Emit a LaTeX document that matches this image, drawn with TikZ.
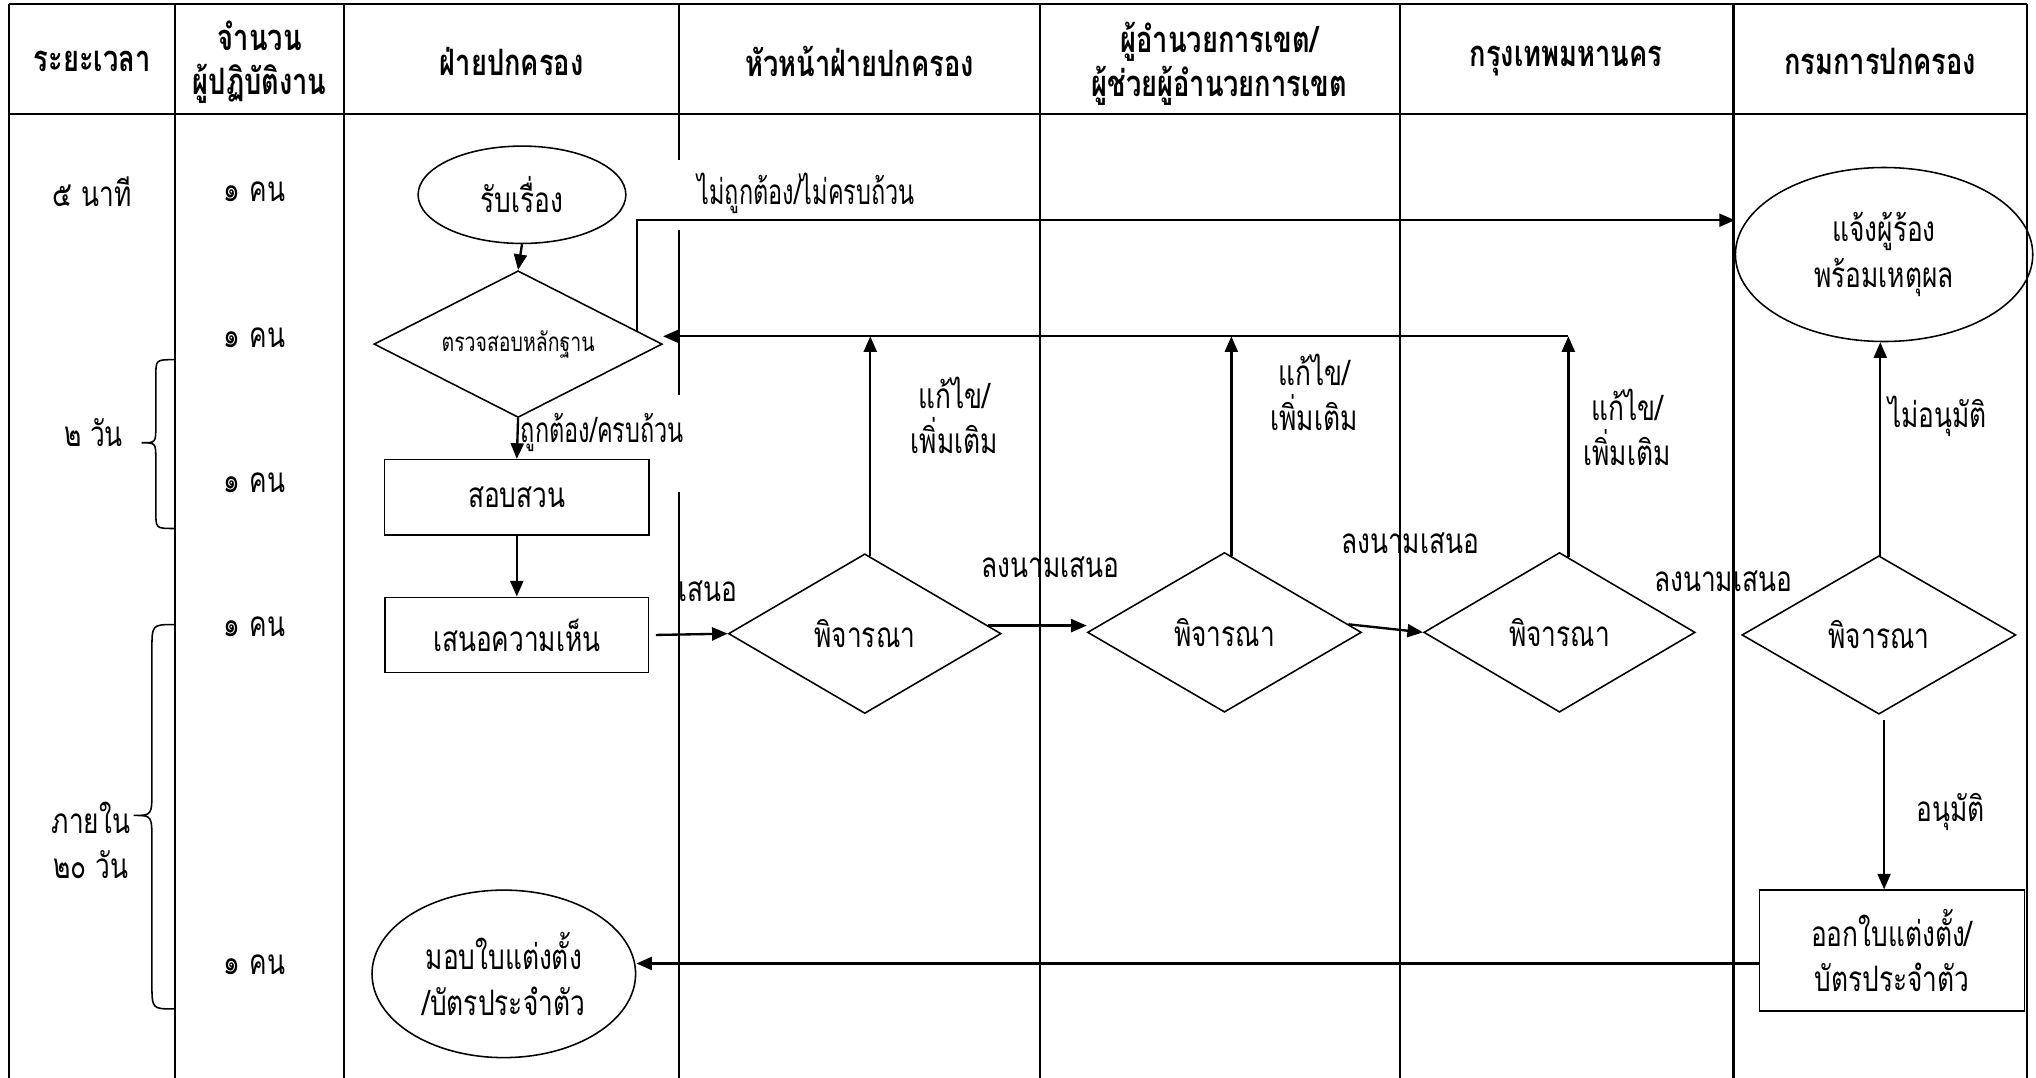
\documentclass[tikz,border=0pt]{standalone}
\usepackage{fontspec}
\newfontfamily\thai[Script=Thai,FakeStretch=0.75]{Loma}
\newfontfamily\thainarrow[Script=Thai,FakeStretch=0.67]{Loma}
\usetikzlibrary{arrows.meta,shapes.geometric,calc}
\newcommand\bodyfont{\thai\fontsize{27}{35}\selectfont}
\newcommand\narrowfont{\thainarrow\fontsize{27}{35}\selectfont}
\newcommand\smallthai{\thai\fontsize{20}{24}\selectfont}
\newcommand\headfont{\thai\bfseries\fontsize{28}{34}\selectfont}
\begin{document}
\begin{tikzpicture}[x=1pt,y=-1pt,
  tline/.style={line width=1.6pt},
  shp/.style={draw,line width=1.2pt,inner sep=0pt,font=\bodyfont,align=center},
  procbox/.style={shp,rectangle},
  termi/.style={shp,ellipse},
  decide/.style={shp,diamond,aspect=2},
  arr/.style={line width=1.8pt,-{Triangle[length=12pt,width=10pt]}},
  txt/.style={font=\bodyfont,align=center,inner sep=0pt},
  head/.style={font=\headfont,align=center,inner sep=0pt},
  brc/.style={line width=1.2pt}]
\useasboundingbox (0,0) rectangle (1568,830);
% ---------- table ----------
\draw[tline] (7,3) -- (1561,3);
\draw[tline] (7,88) -- (1561,88);
\foreach \x in {7,135,265,523,801,1078,1335,1561}
  \draw[tline] (\x,3) -- (\x,830);
% white backgrounds of the two label boxes that hide the lane line
\fill[white] (513,123) rectangle (710,177);
\fill[white] (396,304) rectangle (532,379);
% ---------- header ----------
\node[head] (h1) at (71,47) {ระยะเวลา};
\node[head] (h2) at (200,48) {จำนวน\\ผู้ปฏิบัติงาน};
\node[head] (h3) at (394,47) {ฝ่ายปกครอง};
\node[head] (h4) at (662,47) {หัวหน้าฝ่ายปกครอง};
\node[head] (h5) at (939,49) {ผู้อำนวยการเขต/\\ผู้ช่วยผู้อำนวยการเขต};
\node[head] (h6) at (1206,47) {กรุงเทพมหานคร};
\node[head] (h7) at (1448,47) {กรมการปกครอง};
% ---------- time / staff columns ----------
\node[txt] (t1) at (71,148) {๕ นาที};
\node[txt] (t2) at (72,333) {๒ วัน};
\node[txt] (t3) at (70,647) {ภายใน\\๒๐ วัน};
\node[txt] (s1) at (196,148) {๑ คน};
\node[txt] (s2) at (196,260) {๑ คน};
\node[txt] (s3) at (196,372) {๑ คน};
\node[txt] (s4) at (196,483) {๑ คน};
\node[txt] (s5) at (196,743) {๑ คน};
% braces
\draw[brc] (134,277) .. controls (120,277) .. (120,290) -- (120,328)
  .. controls (120,341) .. (109,341) .. controls (120,341) .. (120,354)
  -- (120,394) .. controls (120,407) .. (134,407);
\draw[brc] (134,481) .. controls (117,481) .. (117,501) -- (117,608)
  .. controls (117,628) .. (103,628) .. controls (117,628) .. (117,648)
  -- (117,757) .. controls (117,777) .. (134,777);
% ---------- flowchart nodes ----------
\node[termi,minimum width=160,minimum height=75] (recv) at (402,150) {รับเรื่อง};
\node[decide,minimum width=222,minimum height=113,font=\smallthai] (chk) at (399,265) {ตรวจสอบหลักฐาน};
\node[procbox,minimum width=204,minimum height=58] (inv) at (398,383) {สอบสวน};
\node[procbox,minimum width=203,minimum height=58] (opin) at (398,489) {เสนอความเห็น};
\node[decide,minimum width=210,minimum height=123] (d1) at (666,488) {พิจารณา};
\node[decide,minimum width=211,minimum height=123] (d2) at (943,487) {พิจารณา};
\node[decide,minimum width=209,minimum height=123] (d3) at (1201,487) {พิจารณา};
\node[decide,minimum width=211,minimum height=122] (d4) at (1447,489) {พิจารณา};
\node[termi,minimum width=229,minimum height=134] (notify) at (1451,196) {แจ้งผู้ร้อง\\พร้อมเหตุผล};
\node[procbox,minimum width=204,minimum height=93] (issue) at (1457,732) {ออกใบแต่งตั้ง/\\บัตรประจำตัว};
\node[termi,minimum width=203,minimum height=129] (give) at (388,750) {มอบใบแต่งตั้ง\\/บัตรประจำตัว};
% ---------- helper coordinates ----------
\coordinate (fb) at (0,259);
\coordinate (pc) at ($(chk.north)!0.82!(chk.east)$);
\coordinate (p1) at ($(d1.north)!0.04!(d1.east)$);
\coordinate (p2) at ($(d2.north)!0.05!(d2.east)$);
\coordinate (p3) at ($(d3.north)!0.065!(d3.east)$);
\coordinate (p4) at ($(d4.north)!0.01!(d4.east)$);
\coordinate (q1) at ($(d1.north)!0.9!(d1.east)$);
\coordinate (q2) at ($(d2.north)!0.9!(d2.east)$);
% ---------- connectors ----------
\draw[arr] (recv.south) -- (chk.north);
\draw[arr] (chk.south) -- (inv.north);
\draw[arr] (inv.south) -- (opin.north);
\draw[arr] ([xshift=5pt]opin.east) -- (d1.west);
\draw[arr] (q1) -- (q1 -| d2.west);
\draw[arr] (q2) -- (d3.west);
\draw[arr] (p1) -- (p1 |- fb);
\draw[arr] (p2) -- (p2 |- fb);
\draw[arr] (p3) -- (p3 |- fb);
\draw[arr] (p3 |- fb) -- (chk.east |- fb);
\draw[arr] (pc) |- ([xshift=-9pt]notify.166);
\draw[arr] (p4) -- (p4 |- notify.south);
\draw[arr] ([shift={(4pt,-4pt)}]d4.south) -- ([xshift=-6pt]issue.north);
\draw[arr] ([yshift=-10pt]issue.west) -- ([yshift=-10pt]issue.west -| give.east);
% ---------- connector labels ----------
\node[txt,font=\narrowfont,anchor=west] (l1) at (537,149) {ไม่ถูกต้อง/ไม่ครบถ้วน};
\node[txt,font=\narrowfont,anchor=west] (l2) at (401,333) {ถูกต้อง/ครบถ้วน};
\node[txt] (l3) at (545,455) {เสนอ};
\node[txt] (l4) at (735,320) {แก้ไข/\\เพิ่มเติม};
\node[txt] (l5) at (1012,302) {แก้ไข/\\เพิ่มเติม};
\node[txt] (l6) at (1253,329) {แก้ไข/\\เพิ่มเติม};
\node[txt] (l7) at (809,437) {ลงนามเสนอ};
\node[txt] (l8) at (1086,418) {ลงนามเสนอ};
\node[txt] (l9) at (1327,448) {ลงนามเสนอ};
\node[txt,anchor=west] (l10) at (1454,321) {ไม่อนุมัติ};
\node[txt] (l11) at (1502,625) {อนุมัติ};
\end{tikzpicture}
\end{document}
